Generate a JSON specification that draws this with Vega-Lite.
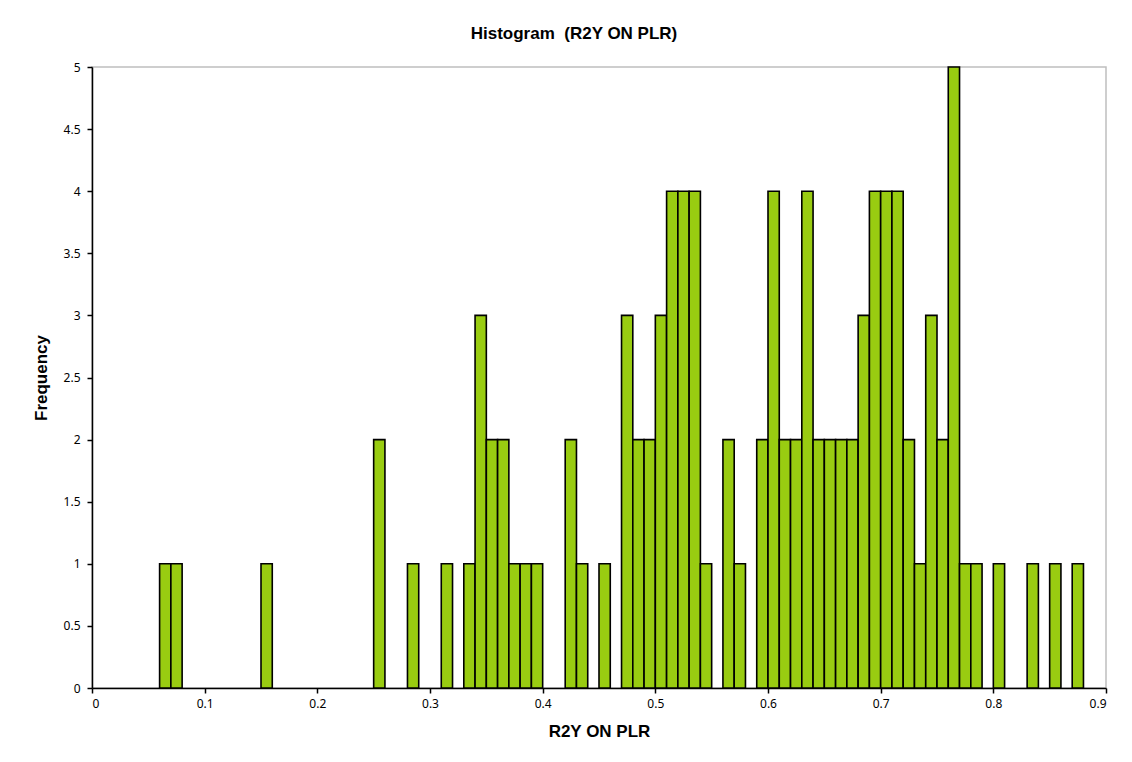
{
  "$schema": "https://vega.github.io/schema/vega-lite/v6.json",
  "width": 1014,
  "height": 621,
  "autosize": {"type": "none"},
  "padding": {"left": 92, "top": 67, "right": 26, "bottom": 74},
  "background": "white",
  "title": {
    "text": "Histogram\u00a0\u00a0(R2Y ON PLR)",
    "font": "Liberation Sans",
    "fontSize": 17,
    "fontWeight": "bold",
    "color": "black",
    "anchor": "middle",
    "dx": -25,
    "offset": 18
  },
  "data": {
    "values": [
      {"bin_start": 0.06, "bin_end": 0.07, "count": 1},
      {"bin_start": 0.07, "bin_end": 0.08, "count": 1},
      {"bin_start": 0.15, "bin_end": 0.16, "count": 1},
      {"bin_start": 0.25, "bin_end": 0.26, "count": 2},
      {"bin_start": 0.28, "bin_end": 0.29, "count": 1},
      {"bin_start": 0.31, "bin_end": 0.32, "count": 1},
      {"bin_start": 0.33, "bin_end": 0.34, "count": 1},
      {"bin_start": 0.34, "bin_end": 0.35, "count": 3},
      {"bin_start": 0.35, "bin_end": 0.36, "count": 2},
      {"bin_start": 0.36, "bin_end": 0.37, "count": 2},
      {"bin_start": 0.37, "bin_end": 0.38, "count": 1},
      {"bin_start": 0.38, "bin_end": 0.39, "count": 1},
      {"bin_start": 0.39, "bin_end": 0.40, "count": 1},
      {"bin_start": 0.42, "bin_end": 0.43, "count": 2},
      {"bin_start": 0.43, "bin_end": 0.44, "count": 1},
      {"bin_start": 0.45, "bin_end": 0.46, "count": 1},
      {"bin_start": 0.47, "bin_end": 0.48, "count": 3},
      {"bin_start": 0.48, "bin_end": 0.49, "count": 2},
      {"bin_start": 0.49, "bin_end": 0.50, "count": 2},
      {"bin_start": 0.50, "bin_end": 0.51, "count": 3},
      {"bin_start": 0.51, "bin_end": 0.52, "count": 4},
      {"bin_start": 0.52, "bin_end": 0.53, "count": 4},
      {"bin_start": 0.53, "bin_end": 0.54, "count": 4},
      {"bin_start": 0.54, "bin_end": 0.55, "count": 1},
      {"bin_start": 0.56, "bin_end": 0.57, "count": 2},
      {"bin_start": 0.57, "bin_end": 0.58, "count": 1},
      {"bin_start": 0.59, "bin_end": 0.60, "count": 2},
      {"bin_start": 0.60, "bin_end": 0.61, "count": 4},
      {"bin_start": 0.61, "bin_end": 0.62, "count": 2},
      {"bin_start": 0.62, "bin_end": 0.63, "count": 2},
      {"bin_start": 0.63, "bin_end": 0.64, "count": 4},
      {"bin_start": 0.64, "bin_end": 0.65, "count": 2},
      {"bin_start": 0.65, "bin_end": 0.66, "count": 2},
      {"bin_start": 0.66, "bin_end": 0.67, "count": 2},
      {"bin_start": 0.67, "bin_end": 0.68, "count": 2},
      {"bin_start": 0.68, "bin_end": 0.69, "count": 3},
      {"bin_start": 0.69, "bin_end": 0.70, "count": 4},
      {"bin_start": 0.70, "bin_end": 0.71, "count": 4},
      {"bin_start": 0.71, "bin_end": 0.72, "count": 4},
      {"bin_start": 0.72, "bin_end": 0.73, "count": 2},
      {"bin_start": 0.73, "bin_end": 0.74, "count": 1},
      {"bin_start": 0.74, "bin_end": 0.75, "count": 3},
      {"bin_start": 0.75, "bin_end": 0.76, "count": 2},
      {"bin_start": 0.76, "bin_end": 0.77, "count": 5},
      {"bin_start": 0.77, "bin_end": 0.78, "count": 1},
      {"bin_start": 0.78, "bin_end": 0.79, "count": 1},
      {"bin_start": 0.80, "bin_end": 0.81, "count": 1},
      {"bin_start": 0.83, "bin_end": 0.84, "count": 1},
      {"bin_start": 0.85, "bin_end": 0.86, "count": 1},
      {"bin_start": 0.87, "bin_end": 0.88, "count": 1}
    ]
  },
  "mark": {"type": "bar", "fill": "#99cc11", "stroke": "black", "strokeWidth": 1.6},
  "encoding": {
    "x": {
      "field": "bin_start",
      "type": "quantitative",
      "scale": {"domain": [0, 0.9], "nice": false, "zero": false},
      "axis": {
        "values": [0, 0.1, 0.2, 0.3, 0.4, 0.5, 0.6, 0.7, 0.8, 0.9],
        "format": "~g",
        "title": "R2Y ON PLR",
        "titleFont": "Liberation Sans",
        "titleFontSize": 17,
        "titleFontWeight": "bold",
        "titleColor": "black",
        "titleY": 43,
        "titleBaseline": "middle",
        "labelFont": "Noto Sans",
        "labelFontSize": 12,
        "labelColor": "black",
        "labelPadding": 5,
        "tickSize": 5,
        "tickColor": "black",
        "tickWidth": 1.5,
        "domainColor": "black",
        "domainWidth": 1.5,
        "grid": false
      }
    },
    "x2": {"field": "bin_end"},
    "y": {
      "field": "count",
      "type": "quantitative",
      "scale": {"domain": [0, 5], "nice": false},
      "axis": {
        "values": [0, 0.5, 1, 1.5, 2, 2.5, 3, 3.5, 4, 4.5, 5],
        "format": "~g",
        "title": "Frequency",
        "titleFont": "Liberation Sans",
        "titleFontSize": 17,
        "titleFontWeight": "bold",
        "titleColor": "black",
        "titleX": -51,
        "titleBaseline": "middle",
        "labelFont": "Noto Sans",
        "labelFontSize": 12,
        "labelColor": "black",
        "labelPadding": 7,
        "tickSize": 5,
        "tickColor": "black",
        "tickWidth": 1.5,
        "domainColor": "black",
        "domainWidth": 1.5,
        "grid": false
      }
    },
    "y2": {"datum": 0}
  },
  "config": {
    "view": {"stroke": "#bfbfbf", "strokeWidth": 1.5}
  }
}
